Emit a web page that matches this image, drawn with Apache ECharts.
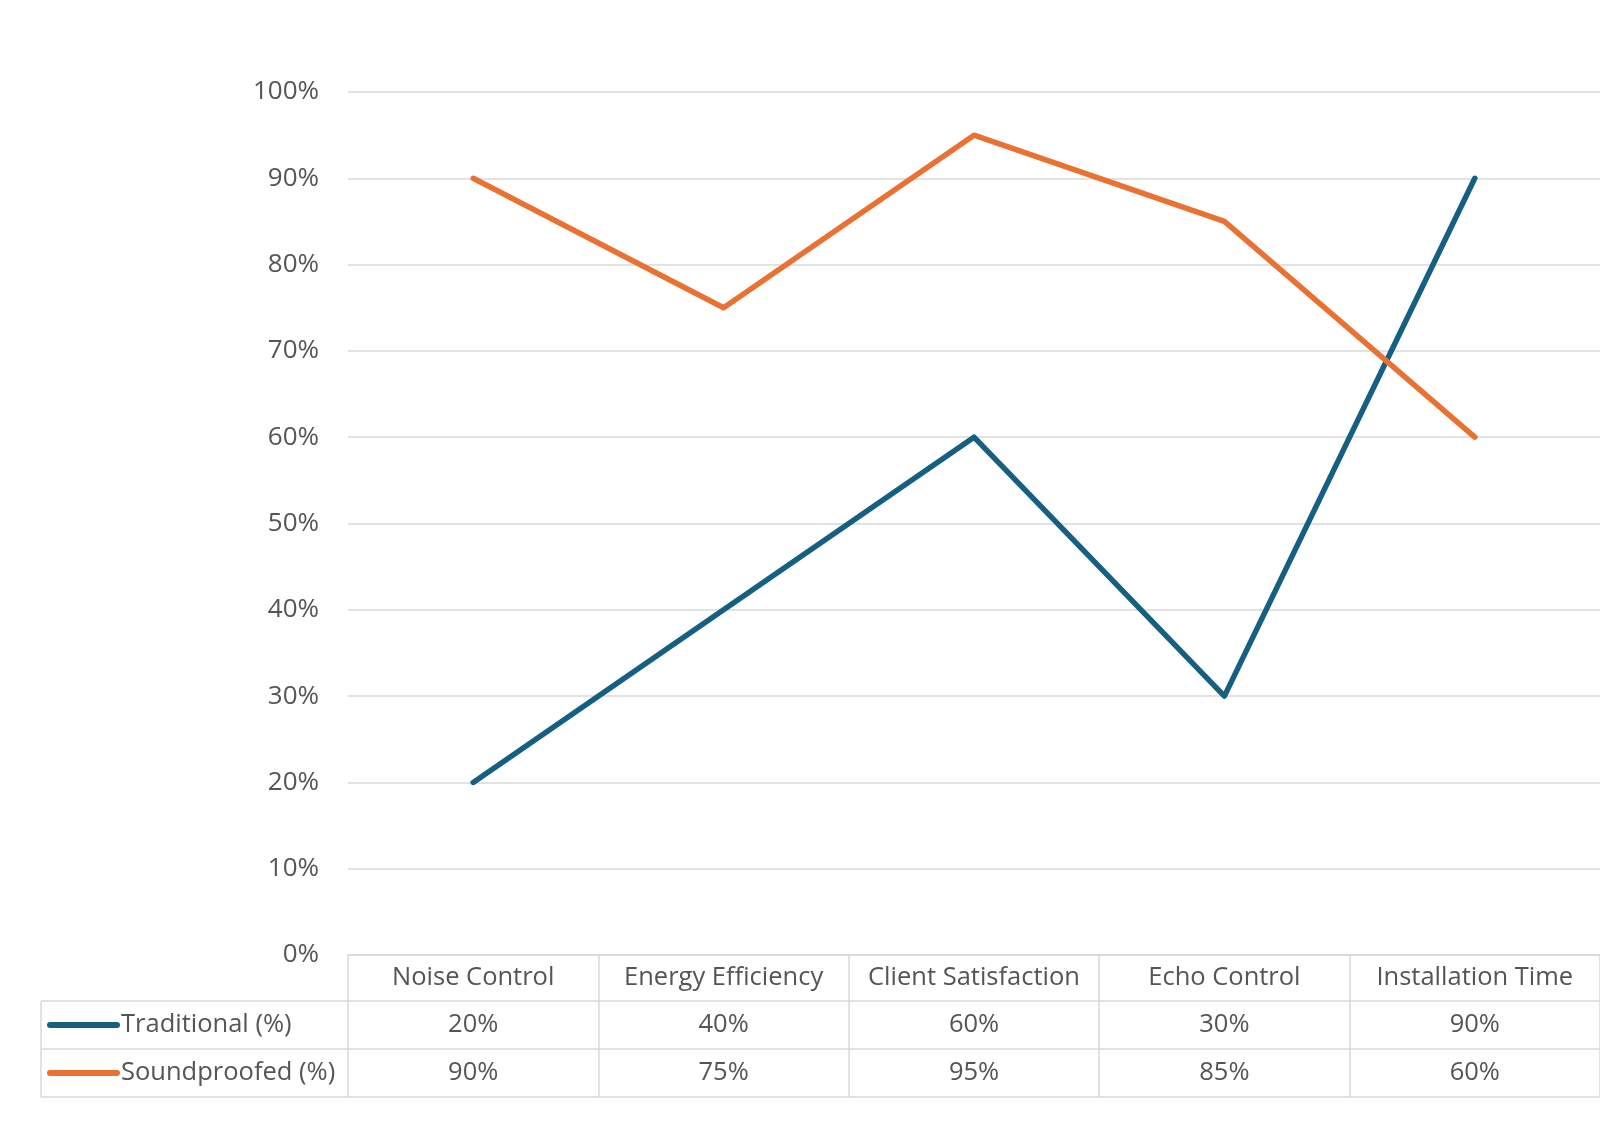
<!DOCTYPE html>
<html><head><meta charset="utf-8">
<script src="https://cdn.jsdelivr.net/npm/echarts@6/dist/echarts.min.js"></script>
<style>html,body{margin:0;padding:0;background:#fff}#c{width:1600px;height:1140px}</style>
</head><body><div id="c"></div>
<script>
const categories = ['Noise Control','Energy Efficiency','Client Satisfaction','Echo Control','Installation Time'];
const traditional = [20, 40, 60, 30, 90];
const soundproofed = [90, 75, 95, 85, 60];
const seriesNames = ['Traditional (%)', 'Soundproofed (%)'];
const seriesData = [traditional, soundproofed];
const colors = ['#156082', '#E97132'];
const yTicks = {min: 0, max: 100, interval: 10};

const FONT = '"Open Sans", "Liberation Sans", sans-serif';
const TXT = '#555555';
const BORDER = '#d9d9d9';
const FS = 25.5;
const chart = echarts.init(document.getElementById('c'), null, {renderer: 'canvas'});

const gridTop = 92, gridBottom = 185, gridLeft = 348;
const headerH = 46, rowH = 48;

chart.setOption({
  animation: false,
  backgroundColor: '#ffffff',
  grid: {left: gridLeft, right: 0, top: gridTop, bottom: gridBottom, containLabel: false},
  xAxis: {
    type: 'category', data: categories, boundaryGap: true,
    axisLine: {show: true, lineStyle: {color: BORDER, width: 1.5}},
    axisTick: {show: true, interval: 0, alignWithLabel: false, length: headerH + 2 * rowH, lineStyle: {color: BORDER, width: 1.5}},
    axisLabel: {show: false},
    splitLine: {show: false}
  },
  yAxis: {
    type: 'value', min: yTicks.min, max: yTicks.max, interval: yTicks.interval,
    axisLine: {show: false}, axisTick: {show: false},
    axisLabel: {formatter: '{value}%', fontSize: 26, color: TXT, fontFamily: FONT, margin: 29},
    splitLine: {lineStyle: {color: BORDER, width: 1.5}}
  },
  series: seriesData.map((d, i) => ({
    name: seriesNames[i], type: 'line', data: d, symbol: 'none',
    lineStyle: {color: colors[i], width: 5.5, cap: 'round', join: 'round'},
    z: 3
  }))
});

// Table drawn from the data arrays, positioned through the category axis
const axisY = chart.convertToPixel({yAxisIndex: 0}, 0);
const graphics = [];
const tableLeft = 41, tableRight = 1600;
const rowLines = [axisY + headerH, axisY + headerH + rowH, axisY + headerH + 2 * rowH];
rowLines.forEach(y => graphics.push({type: 'line', shape: {x1: tableLeft, y1: y, x2: tableRight, y2: y}, style: {stroke: BORDER, lineWidth: 1.5}}));
graphics.push({type: 'line', shape: {x1: tableLeft, y1: rowLines[0], x2: tableLeft, y2: rowLines[2]}, style: {stroke: BORDER, lineWidth: 1.5}});

categories.forEach((c, j) => {
  const x = chart.convertToPixel({xAxisIndex: 0}, j);
  graphics.push({type: 'text', style: {text: c, x: x, y: axisY + headerH / 2, textAlign: 'center', textVerticalAlign: 'middle', fontSize: FS, fontFamily: FONT, fill: TXT}});
  seriesData.forEach((d, i) => {
    graphics.push({type: 'text', style: {text: d[j] + '%', x: x, y: rowLines[i] + rowH / 2, textAlign: 'center', textVerticalAlign: 'middle', fontSize: FS, fontFamily: FONT, fill: TXT}});
  });
});
seriesNames.forEach((n, i) => {
  const cy = rowLines[i] + rowH / 2;
  graphics.push({type: 'line', shape: {x1: 50, y1: cy, x2: 117, y2: cy}, style: {stroke: colors[i], lineWidth: 6, lineCap: 'round'}});
  graphics.push({type: 'text', style: {text: n, x: 121, y: cy, textAlign: 'left', textVerticalAlign: 'middle', fontSize: FS, fontFamily: FONT, fill: TXT}});
});
chart.setOption({graphic: graphics});
</script></body></html>
